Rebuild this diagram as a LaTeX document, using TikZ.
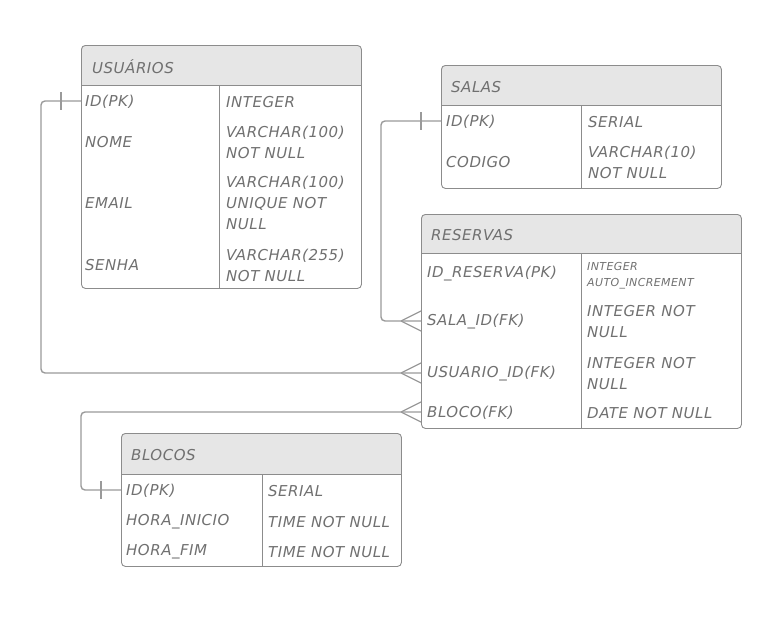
\documentclass[tikz,border=0pt]{standalone}
\usepackage{fontspec}
\setmainfont{DejaVu Sans}[LetterSpace=3.5]
\definecolor{txt}{HTML}{707070}
\definecolor{hdr}{HTML}{E6E6E6}
\definecolor{bord}{HTML}{8C8C8C}
\definecolor{conncol}{HTML}{9A9A9A}
\tikzset{
  cell/.style={anchor=west, inner sep=0pt, text=txt, font=\fontsize{15}{21}\selectfont\itshape, align=left},
  small/.style={cell, font=\fontsize{11}{16}\selectfont\itshape},
  tbox/.style={draw=bord, line width=0.9pt, rounded corners=4pt, anchor=north west, inner sep=0pt},
  conn/.style={draw=conncol, line width=1.4pt, rounded corners=4pt},
  foot/.style={draw=conncol, line width=1.2pt},
  sep/.style={draw=bord, line width=0.9pt}
}
\newcommand{\tablebg}[5]{% x1 y1 x2 yh y2
  \begin{scope}
    \clip[rounded corners=4pt] (#1,#2) rectangle (#3,#5);
    \fill[hdr] (#1,#2) rectangle (#3,#4);
  \end{scope}
}
\begin{document}
\begin{tikzpicture}[x=1pt,y=-1pt]
\useasboundingbox (0,0) rectangle (780,624);

% ---------- USUARIOS
\tablebg{81}{45}{361}{85}{288}
\node[tbox, minimum width=280pt, minimum height=243pt] (usu) at (81,45) {};
\draw[sep] (81,85) -- (361,85);
\draw[sep] (219,85) -- (219,288);
\node[cell] (usuh) at (92,67) {USUÁRIOS};
\node[cell] (u1a) at (85,102) {ID(PK)};
\node[cell] (u1b) at (226,102) {INTEGER};
\node[cell] (u2a) at (85,142) {NOME};
\node[cell] (u2b) at (226,142) {VARCHAR(100)\\NOT NULL};
\node[cell] (u3a) at (85,203) {EMAIL};
\node[cell] (u3b) at (226,203) {VARCHAR(100)\\UNIQUE NOT\\NULL};
\node[cell] (u4a) at (85,265) {SENHA};
\node[cell] (u4b) at (226,265) {VARCHAR(255)\\NOT NULL};

% ---------- SALAS
\tablebg{441}{65}{721}{105}{188}
\node[tbox, minimum width=280pt, minimum height=123pt] (sal) at (441,65) {};
\draw[sep] (441,105) -- (721,105);
\draw[sep] (581,105) -- (581,188);
\node[cell] (salh) at (451,87) {SALAS};
\node[cell] (s1a) at (446,122) {ID(PK)};
\node[cell] (s1b) at (588,122) {SERIAL};
\node[cell] (s2a) at (446,162) {CODIGO};
\node[cell] (s2b) at (588,162) {VARCHAR(10)\\NOT NULL};

% ---------- RESERVAS
\tablebg{421}{214}{741}{253}{428}
\node[tbox, minimum width=320pt, minimum height=214pt] (res) at (421,214) {};
\draw[sep] (421,253) -- (741,253);
\draw[sep] (581,253) -- (581,428);
\node[cell] (resh) at (431,235) {RESERVAS};
\node[cell] (r1a) at (427,274) {ID\_RESERVA(PK)};
\node[small] (r1b) at (587,276) {INTEGER\\AUTO\_INCREMENT};
\node[cell] (r2a) at (427,322) {SALA\_ID(FK)};
\node[cell] (r2b) at (587,322) {INTEGER NOT\\NULL};
\node[cell] (r3a) at (427,374) {USUARIO\_ID(FK)};
\node[cell] (r3b) at (587,374) {INTEGER NOT\\NULL};
\node[cell] (r4a) at (427,413) {BLOCO(FK)};
\node[cell] (r4b) at (587,413) {DATE NOT NULL};

% ---------- BLOCOS
\tablebg{121}{433}{401}{474}{566}
\node[tbox, minimum width=280pt, minimum height=133pt] (blo) at (121,433) {};
\draw[sep] (121,474) -- (401,474);
\draw[sep] (262,474) -- (262,566);
\node[cell] (bloh) at (131,455) {BLOCOS};
\node[cell] (b1a) at (126,491) {ID(PK)};
\node[cell] (b1b) at (268,491) {SERIAL};
\node[cell] (b2a) at (126,522) {HORA\_INICIO};
\node[cell] (b2b) at (268,522) {TIME NOT NULL};
\node[cell] (b3a) at (126,552) {HORA\_FIM};
\node[cell] (b3b) at (268,552) {TIME NOT NULL};

% ---------- connector end points
\coordinate (pU) at (81,101);
\coordinate (pS) at (441,121);
\coordinate (pB) at (121,490);
\coordinate (fU) at (421,373);
\coordinate (fS) at (421,321);
\coordinate (fB) at (421,412);
\coordinate (cU) at (41,101);
\coordinate (cS) at (381,121);
\coordinate (cB) at (81,412);

% USUARIOS -> RESERVAS
\draw[conn] (pU) -- (cU) |- (fU);
\draw[foot] ([xshift=-20pt]pU) ++(0,-9) -- ++(0,18);
\draw[foot] ([xshift=-20pt]fU) -- ([yshift=-10pt]fU);
\draw[foot] ([xshift=-20pt]fU) -- ([yshift=10pt]fU);

% SALAS -> RESERVAS
\draw[conn] (pS) -- (cS) |- (fS);
\draw[foot] ([xshift=-20pt]pS) ++(0,-9) -- ++(0,18);
\draw[foot] ([xshift=-20pt]fS) -- ([yshift=-10pt]fS);
\draw[foot] ([xshift=-20pt]fS) -- ([yshift=10pt]fS);

% BLOCOS -> RESERVAS
\draw[conn] (fB) -- (cB) |- (pB);
\draw[foot] ([xshift=-20pt]pB) ++(0,-9) -- ++(0,18);
\draw[foot] ([xshift=-20pt]fB) -- ([yshift=-10pt]fB);
\draw[foot] ([xshift=-20pt]fB) -- ([yshift=10pt]fB);
\end{tikzpicture}
\end{document}
